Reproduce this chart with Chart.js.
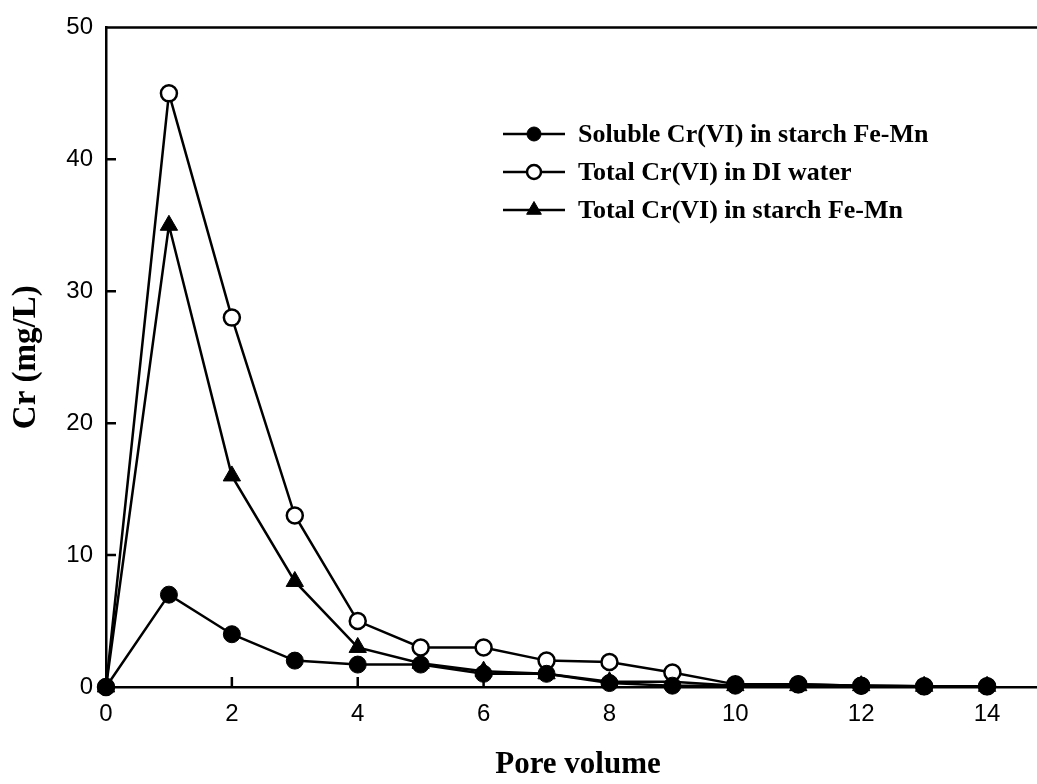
<!DOCTYPE html>
<html>
<head>
<meta charset="utf-8">
<script src="https://cdn.jsdelivr.net/npm/chart.js@4"></script>
<style>
  html, body { margin: 0; padding: 0; background: #fff; overflow: hidden; }
  #wrap { width: 1037px; height: 784px; overflow: hidden; }
</style>
</head>
<body>
<div id="wrap"><canvas id="crChart" width="1061" height="784"></canvas></div>
<script>
// data
const poreVolume = [0, 1, 2, 3, 4, 5, 6, 7, 8, 9, 10, 11, 12, 13, 14];
const solubleStarch = [0, 7, 4, 2, 1.7, 1.7, 1.0, 1.0, 0.3, 0.1, 0.1, 0.2, 0.1, 0.05, 0.05];
const totalDIWater = [0, 45, 28, 13, 5, 3, 3, 2, 1.9, 1.1, 0.2, 0.2, 0.1, 0.05, 0.05];
const totalStarch = [0, 35, 16, 8, 3, 1.8, 1.2, 1.0, 0.4, 0.4, 0.1, 0.1, 0.1, 0.05, 0.05];
const seriesNames = ["Soluble Cr(VI) in starch Fe-Mn", "Total Cr(VI) in DI water", "Total Cr(VI) in starch Fe-Mn"];
const yTicks = [0, 10, 20, 30, 40, 50];

function toPoints(ys) {
  return poreVolume.map((x, i) => ({ x: x, y: ys[i] }));
}

// top frame line + inward ticks
const framePlugin = {
  id: "frame",
  afterDraw(chart) {
    const ctx = chart.ctx;
    const a = chart.chartArea;
    const xs = chart.scales.x;
    const ys = chart.scales.y;
    ctx.save();
    ctx.strokeStyle = "#000";
    ctx.lineWidth = 2.5;
    ctx.beginPath();
    ctx.moveTo(a.left, a.top);
    ctx.lineTo(a.right + 5, a.top);
    xs.ticks.forEach(t => {
      const px = xs.getPixelForValue(t.value);
      if (t.value === 0) return;
      ctx.moveTo(px, a.bottom);
      ctx.lineTo(px, a.bottom - 10);
    });
    ys.ticks.forEach(t => {
      const py = ys.getPixelForValue(t.value);
      if (t.value === 0) return;
      ctx.moveTo(a.left, py);
      ctx.lineTo(a.left + 10, py);
    });
    ctx.stroke();
    ctx.restore();
  }
};

// legend drawn inside the plot
const legendPlugin = {
  id: "innerLegend",
  afterDraw(chart) {
    const ctx = chart.ctx;
    ctx.save();
    ctx.font = "bold 26px 'Liberation Serif', 'Times New Roman', serif";
    ctx.textBaseline = "middle";
    ctx.fillStyle = "#000";
    chart.data.datasets.forEach((ds, i) => {
      const y = 134 + i * 38;
      ctx.strokeStyle = "#000";
      ctx.lineWidth = 2.5;
      ctx.beginPath();
      ctx.moveTo(503, y);
      ctx.lineTo(565, y);
      ctx.stroke();
      ctx.fillStyle = ds.pointBackgroundColor;
      ctx.strokeStyle = "#000";
      ctx.lineWidth = ds.pointBorderWidth;
      Chart.helpers.drawPoint(ctx, {
        pointStyle: ds.pointStyle,
        radius: ds.pointStyle === "triangle" ? 8.5 : 7,
        borderWidth: ds.pointBorderWidth,
        rotation: 0
      }, 534, y);
      ctx.fillStyle = "#000";
      ctx.fillText(ds.label, 578, y + 1);
    });
    ctx.restore();
  }
};

new Chart(document.getElementById("crChart"), {
  type: "line",
  data: {
    datasets: [
      {
        label: seriesNames[0],
        data: toPoints(solubleStarch),
        borderColor: "#000",
        borderWidth: 2.5,
        pointStyle: "circle",
        pointRadius: 8.5,
        pointBackgroundColor: "#000",
        pointBorderColor: "#000",
        pointBorderWidth: 1,
        clip: false
      },
      {
        label: seriesNames[1],
        data: toPoints(totalDIWater),
        borderColor: "#000",
        borderWidth: 2.5,
        pointStyle: "circle",
        pointRadius: 8,
        pointBackgroundColor: "#fff",
        pointBorderColor: "#000",
        pointBorderWidth: 2.5,
        clip: false
      },
      {
        label: seriesNames[2],
        data: toPoints(totalStarch),
        borderColor: "#000",
        borderWidth: 2.5,
        pointStyle: "triangle",
        pointRadius: 10,
        pointBackgroundColor: "#000",
        pointBorderColor: "#000",
        pointBorderWidth: 1,
        clip: false
      }
    ]
  },
  options: {
    responsive: false,
    animation: false,
    devicePixelRatio: 1,
    layout: { padding: { top: 25, right: 0, left: 0, bottom: 0 } },
    plugins: {
      legend: { display: false },
      tooltip: { enabled: false }
    },
    scales: {
      x: {
        type: "linear",
        min: 0,
        max: 15,
        afterFit(scale) { scale.height = 97; },
        grid: { display: true, drawOnChartArea: false, drawTicks: false },
        border: { display: true, color: "#000", width: 2.5 },
        ticks: {
          stepSize: 2,
          includeBounds: false,
          padding: 13,
          color: "#000",
          font: { family: "'Liberation Sans', Arial, sans-serif", size: 24 }
        },
        title: {
          display: true,
          text: "Pore volume",
          color: "#000",
          padding: { top: 0, bottom: 0 },
          font: { family: "'Liberation Serif', 'Times New Roman', serif", size: 31, weight: "bold" }
        }
      },
      y: {
        min: 0,
        max: 50,
        afterFit(scale) { scale.width = 106; },
        afterBuildTicks(scale) { scale.ticks = yTicks.map(v => ({ value: v })); },
        grid: { display: true, drawOnChartArea: false, drawTicks: false },
        border: { display: true, color: "#000", width: 2.5 },
        ticks: {
          padding: 13,
          color: "#000",
          font: { family: "'Liberation Sans', Arial, sans-serif", size: 24 }
        },
        title: {
          display: true,
          text: "Cr (mg/L)",
          color: "#000",
          padding: { top: 7, bottom: 0 },
          font: { family: "'Liberation Serif', 'Times New Roman', serif", size: 33, weight: "bold" }
        }
      }
    }
  },
  plugins: [framePlugin, legendPlugin]
});
</script>
</body>
</html>
